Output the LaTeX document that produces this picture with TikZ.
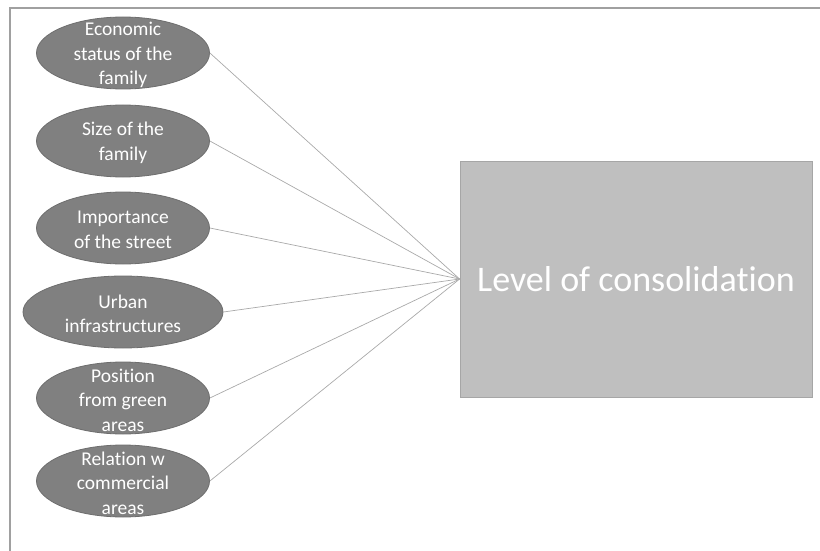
\documentclass[tikz,border=0pt]{standalone}
\usepackage{fontspec}
\setmainfont[Ligatures=NoCommon]{Carlito}
\usetikzlibrary{shapes.geometric}
\definecolor{ovalfill}{HTML}{808080}
\definecolor{ovalline}{HTML}{6E6E6E}
\definecolor{boxfill}{HTML}{BFBFBF}
\definecolor{boxline}{HTML}{A6A6A6}
\definecolor{linkline}{HTML}{A9A9A9}
\definecolor{frameline}{HTML}{A0A0A0}
\tikzset{
  factor/.style={ellipse, draw=ovalline, fill=ovalfill, line width=0.8pt,
    minimum width=173pt, minimum height=72pt, inner sep=0pt},
  factortext/.style={text=white, align=center, inner sep=0pt, yshift=-2pt,
    font=\fontsize{19.5}{24.5}\selectfont},
  outcome/.style={rectangle, draw=boxline, fill=boxfill, line width=0.8pt,
    minimum width=352pt, minimum height=236pt, inner sep=0pt,
    text=white, font=\fontsize{36}{42}\selectfont},
  link/.style={draw=linkline, line width=0.7pt},
}
\begin{document}
\begin{tikzpicture}[x=1pt, y=-1pt]
  \useasboundingbox (0,0) rectangle (820,551);
  % page frame (top and left edges)
  \draw[frameline, line width=1.2pt] (10,551) -- (10,8) -- (820,8);

  % oval shapes, then their captions on top
  \node[factor] (econ) at (123,53) {};
  \node[factor] (size) at (123,141) {};
  \node[factor] (street) at (123,228) {};
  \node[factor, minimum width=200pt] (infra) at (123,312) {};
  \node[factor] (green) at (123,398) {};
  \node[factor] (comm) at (123,481) {};

  \node[factortext] (econ-t) at (econ) {Economic\\status of the\\family};
  \node[factortext] (size-t) at (size) {Size of the\\family};
  \node[factortext] (street-t) at (street) {Importance\\of the street};
  \node[factortext] (infra-t) at (infra) {Urban\\infrastructures};
  \node[factortext] (green-t) at (green) {Position\\from green\\areas};
  \node[factortext] (comm-t) at (comm) {Relation w\\commercial\\areas};

  \node[outcome] (level) at (636,279) {Level of consolidation};

  \foreach \n in {econ,size,street,infra,green,comm}
    \draw[link] (\n.east) -- (level.west);
\end{tikzpicture}
\end{document}
